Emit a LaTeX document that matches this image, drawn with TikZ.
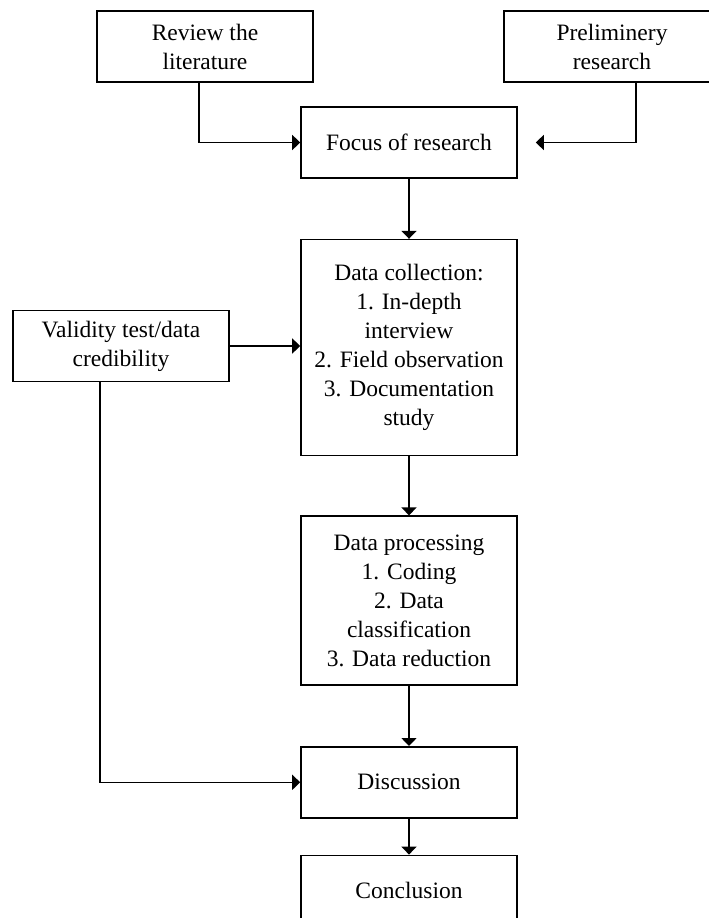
\documentclass[tikz,border=0pt]{standalone}
\usepackage{fontspec}
\setmainfont{Liberation Serif}
\usetikzlibrary{positioning,arrows.meta}
\begin{document}
\begin{tikzpicture}[
    x=1pt, y=-1pt,
    font=\fontsize{23.5}{29}\selectfont,
    box/.style={draw, line width=1.6pt, align=center, inner sep=2pt, minimum width=216pt, minimum height=71pt},
    arr/.style={-{Triangle[length=8pt, width=15pt]}, line width=1.6pt}
  ]
    \useasboundingbox (0,0) rectangle (709,918);
    \clip (0,0) rectangle (709,918);
    \node[box] (rev) at (205,46.5) {Review the\\literature};
    \node[box] (pre) at (612,46.5) {Preliminery\\research};
    \node[box] (foc) at (409,142.5) {Focus of research};
    \node[box, below=60pt of foc, minimum height=216pt] (col) {Data collection:\\1. In-depth\\interview\\2. Field observation\\3. Documentation\\study};
    \node[box] (val) at (121,346) {Validity test/data\\credibility};
    \node[box, below=59pt of col, minimum height=169pt] (proc) {Data processing\\1. Coding\\2. Data\\classification\\3. Data reduction};
    \node[box, below=60pt of proc] (disc) {Discussion};
    \node[box, below=36pt of disc] (conc) {Conclusion};
    \draw[arr] ([xshift=-6pt]rev.south) |- (foc.west);
    \draw[arr] ([xshift=24pt]pre.south) |- ([xshift=18pt]foc.east);
    \draw[arr] (foc) -- (col);
    \draw[arr] (val.east) -- (val.east -| col.west);
    \draw[arr] ([xshift=-21pt]val.south) |- (disc.west);
    \draw[arr] (col) -- (proc);
    \draw[arr] (proc) -- (disc);
    \draw[arr] (disc) -- (conc);
  \end{tikzpicture}
\end{document}
